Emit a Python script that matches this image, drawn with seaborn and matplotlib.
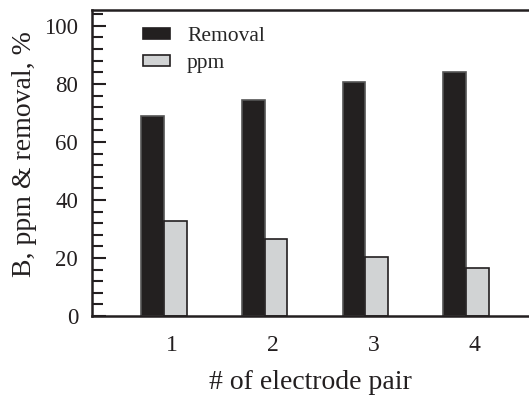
import matplotlib
matplotlib.use("Agg")
import matplotlib.pyplot as plt
import matplotlib.transforms as mtransforms
from matplotlib.ticker import MultipleLocator
import seaborn as sns
import pandas as pd

# Electrode pair count vs. boron removal and residual boron
pairs = ["1", "2", "3", "4"]
removal = [68.8, 74.6, 80.8, 84.0]
ppm = [32.9, 26.4, 20.2, 16.5]

df = pd.DataFrame({
    "pair": pairs * 2,
    "value": removal + ppm,
    "series": ["Removal"] * len(pairs) + ["ppm"] * len(pairs),
})

sns.set_theme(style="white")
plt.rcParams["font.family"] = ["Liberation Serif", "DejaVu Serif"]

fig = plt.figure(figsize=(5.29, 3.97), dpi=100)
ax = fig.add_axes([0.174, 0.204, 0.826, 0.771])

sns.barplot(data=df, x="pair", y="value", hue="series",
            palette={"Removal": "#231f20", "ppm": "#d1d3d4"},
            width=0.45, gap=0, ax=ax, legend=True)

edges = ["#555555", "#231f20"]
for bar_container, edge in zip(ax.containers, edges):
    for patch in bar_container:
        patch.set_edgecolor(edge)
        patch.set_linewidth(1.2)

ax.set_xlim(-0.715, 3.626)
ax.set_ylim(0, 105.5)
ax.yaxis.set_major_locator(MultipleLocator(20))
ax.yaxis.set_minor_locator(MultipleLocator(4))
ax.tick_params(axis="y", which="major", direction="in", length=10, width=1.5,
               labelsize=16.5, pad=10, left=True, color="#231f20",
               labelcolor="#231f20")
ax.tick_params(axis="y", which="minor", direction="in", length=8, width=1.5,
               left=True, color="#231f20")
ax.tick_params(axis="x", length=0, labelsize=17, pad=14, labelcolor="#231f20")

offset = mtransforms.ScaledTranslation(8 / 100, 0, fig.dpi_scale_trans)
for lbl in ax.get_xticklabels():
    lbl.set_transform(lbl.get_transform() + offset)

ax.set_xlabel("# of electrode pair", fontsize=20, labelpad=10, color="#231f20")
ax.set_ylabel("B, ppm & removal, %", fontsize=20, color="#231f20")
ax.yaxis.set_label_coords(-0.126, 0.53)

for side in ["left", "top", "bottom"]:
    ax.spines[side].set_linewidth(1.8)
    ax.spines[side].set_color("#231f20")
ax.spines["right"].set_visible(False)

leg = ax.legend(loc="upper left", bbox_to_anchor=(0.077, 1.0), frameon=False,
                fontsize=15.5, handlelength=1.25, handleheight=0.4,
                handletextpad=0.8, labelspacing=0.38, title=None,
                borderaxespad=0.4)
for handle in leg.legend_handles:
    handle.set_edgecolor("#231f20")
    handle.set_linewidth(1.2)

fig.savefig("out.png", dpi=100)
